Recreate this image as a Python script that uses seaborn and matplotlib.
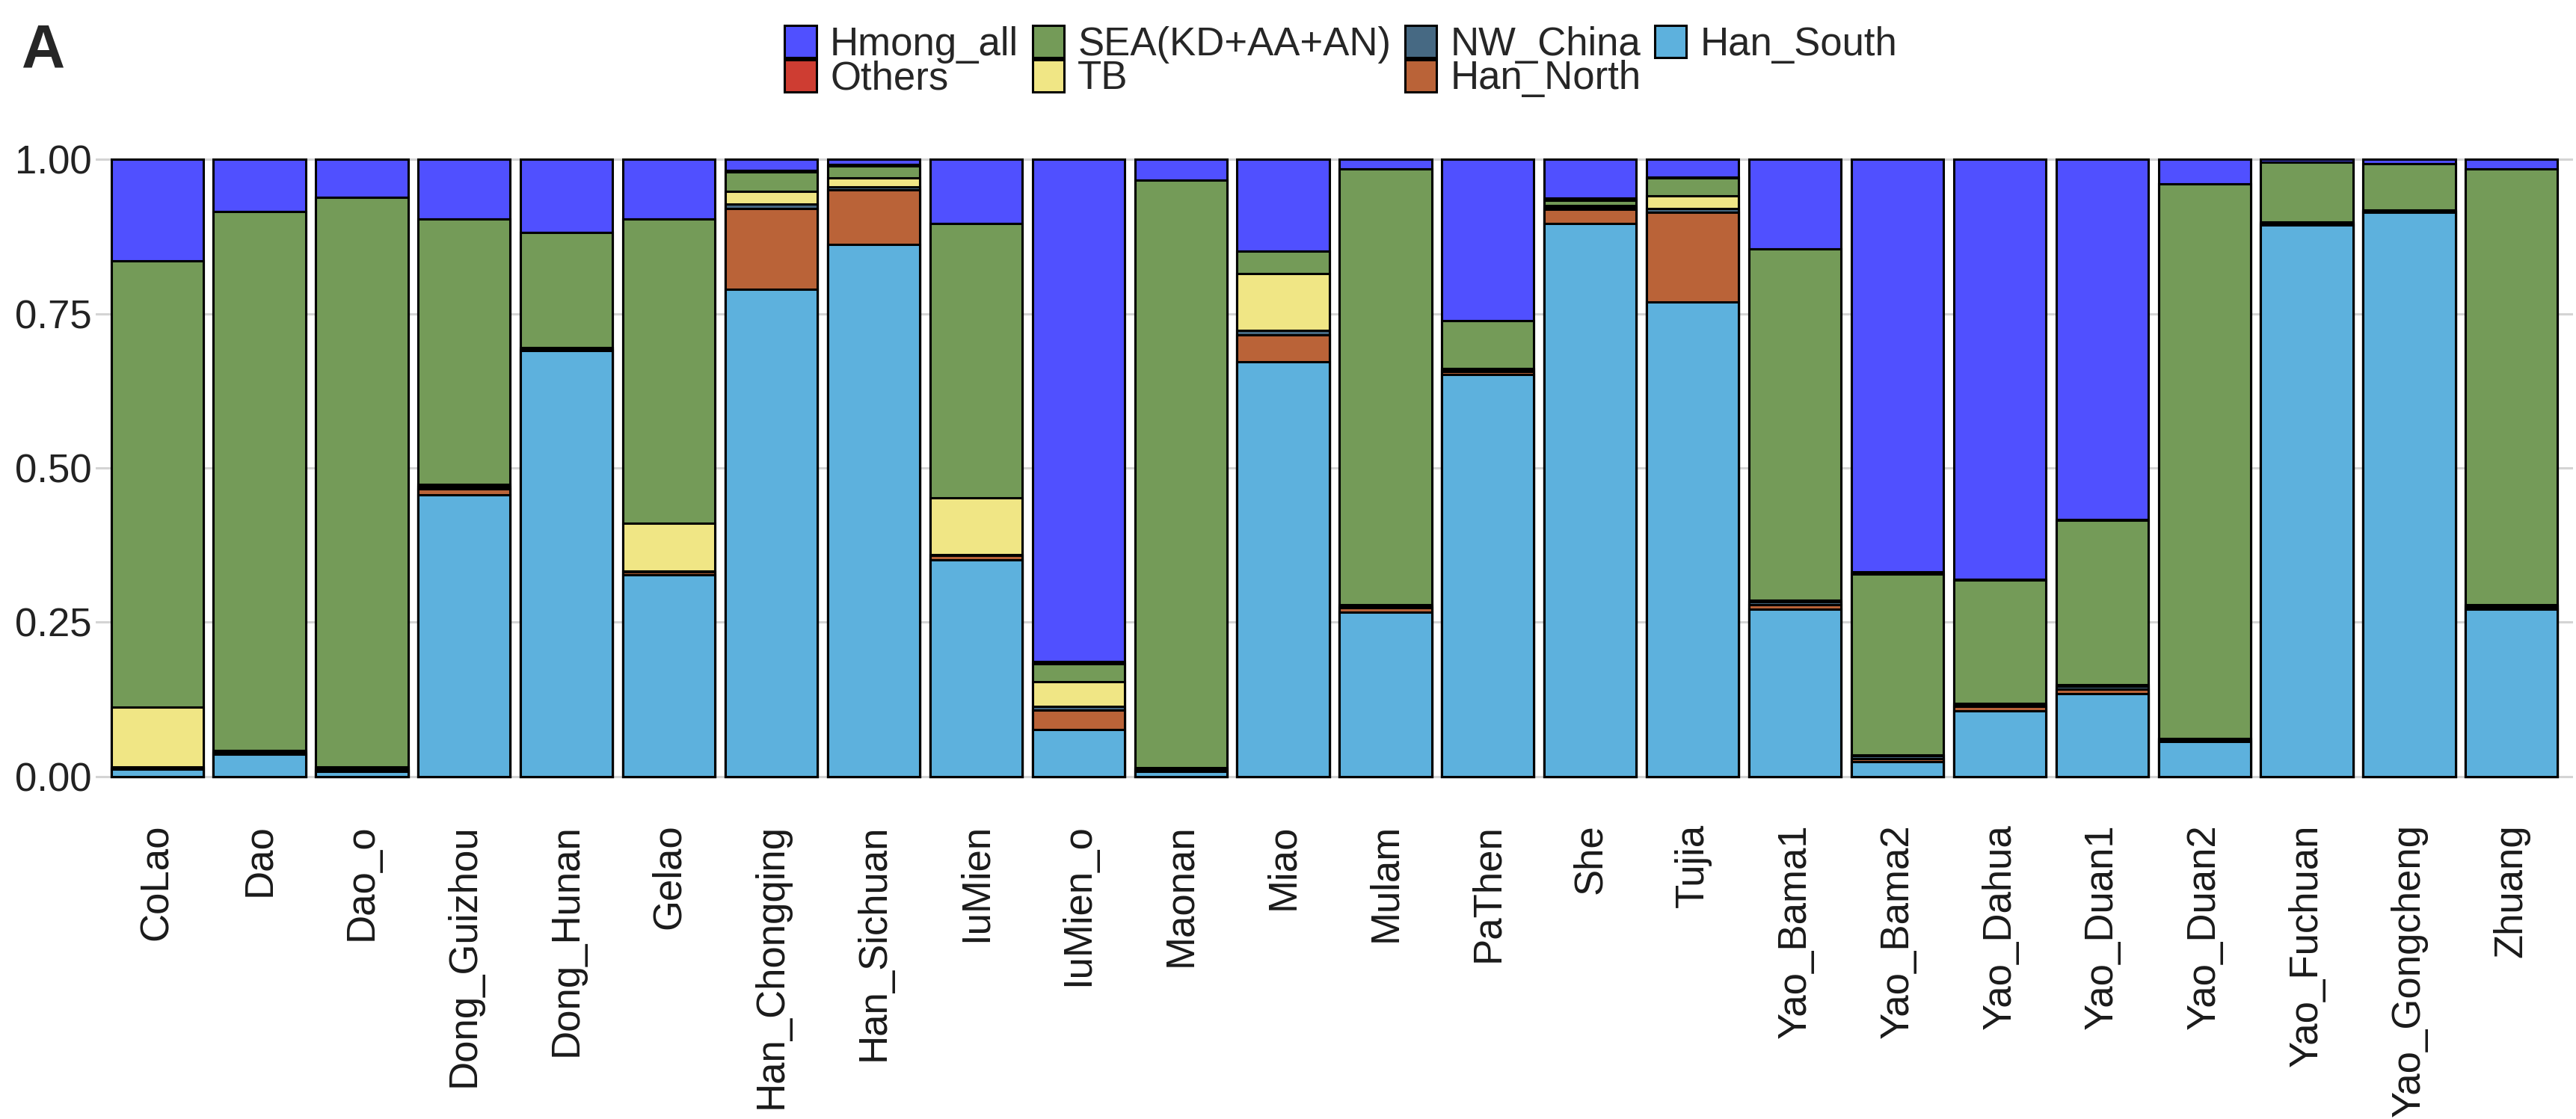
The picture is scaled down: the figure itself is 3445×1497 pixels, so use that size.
import numpy as np
import pandas as pd
import seaborn as sns
import matplotlib

matplotlib.use("Agg")
import matplotlib.pyplot as plt
from matplotlib.patches import Patch

sns.set_theme(style="white")
plt.rcParams["font.family"] = ["Liberation Sans", "DejaVu Sans"]

populations = [
    "CoLao", "Dao", "Dao_o", "Dong_Guizhou", "Dong_Hunan", "Gelao",
    "Han_Chongqing", "Han_Sichuan", "IuMien", "IuMien_o", "Maonan", "Miao",
    "Mulam", "PaThen", "She", "Tujia", "Yao_Bama1", "Yao_Bama2",
    "Yao_Dahua", "Yao_Duan1", "Yao_Duan2", "Yao_Fuchuan", "Yao_Gongcheng",
    "Zhuang",
]

# ancestry proportions per population, one list per component
han_south = [0.012, 0.036, 0.008, 0.456, 0.690, 0.327, 0.789, 0.862, 0.351, 0.076, 0.008, 0.672,
             0.266, 0.652, 0.896, 0.769, 0.271, 0.024, 0.106, 0.134, 0.057, 0.894, 0.914, 0.271]
han_north = [0.002, 0.003, 0.003, 0.010, 0.002, 0.005, 0.131, 0.089, 0.007, 0.031, 0.003, 0.044,
             0.007, 0.004, 0.023, 0.145, 0.007, 0.005, 0.007, 0.007, 0.002, 0.002, 0.002, 0.004]
nw_china = [0.001, 0.002, 0.003, 0.004, 0.002, 0.001, 0.008, 0.004, 0.001, 0.006, 0.002, 0.007,
            0.003, 0.004, 0.004, 0.006, 0.005, 0.004, 0.003, 0.005, 0.002, 0.001, 0.001, 0.002]
tb = [0.097, 0.001, 0.001, 0.003, 0.001, 0.077, 0.020, 0.015, 0.092, 0.040, 0.001, 0.092,
      0.002, 0.001, 0.002, 0.021, 0.003, 0.002, 0.002, 0.003, 0.001, 0.001, 0.001, 0.001]
sea = [0.723, 0.873, 0.924, 0.430, 0.187, 0.493, 0.032, 0.019, 0.445, 0.029, 0.953, 0.036,
       0.707, 0.078, 0.009, 0.029, 0.569, 0.293, 0.200, 0.266, 0.898, 0.098, 0.075, 0.707]
others = [0.000, 0.000, 0.000, 0.000, 0.000, 0.000, 0.002, 0.003, 0.000, 0.004, 0.000, 0.000,
          0.000, 0.000, 0.003, 0.001, 0.000, 0.004, 0.002, 0.002, 0.000, 0.000, 0.000, 0.000]
hmong_all = [0.165, 0.085, 0.061, 0.097, 0.118, 0.097, 0.018, 0.008, 0.104, 0.814, 0.033, 0.149,
             0.015, 0.261, 0.063, 0.029, 0.145, 0.668, 0.680, 0.583, 0.040, 0.004, 0.007, 0.015]

# bottom -> top stacking order
components = ["Han_South", "Han_North", "NW_China", "TB", "SEA(KD+AA+AN)", "Others", "Hmong_all"]
values = [han_south, han_north, nw_china, tb, sea, others, hmong_all]

colors = {
    "Hmong_all": "#5050FF",
    "Others": "#CE3D32",
    "SEA(KD+AA+AN)": "#749B58",
    "TB": "#F0E685",
    "NW_China": "#466983",
    "Han_North": "#BA6338",
    "Han_South": "#5DB1DD",
}
legend_order = ["Hmong_all", "Others", "SEA(KD+AA+AN)", "TB", "NW_China", "Han_North", "Han_South"]

df = pd.DataFrame(dict(zip(components, values)), index=populations)
cum = df.cumsum(axis=1)

fig = plt.figure(figsize=(17.225, 7.485), dpi=200)
ax = fig.add_axes([128 / 3445, 1 - 1080 / 1497, (3441 - 128) / 3445, (1080 - 172) / 1497])

# overlay cumulative bars from the top component down
for comp in components[::-1]:
    sns.barplot(
        x=populations, y=cum[comp].values, order=populations, color=colors[comp],
        saturation=1, width=0.9, edgecolor="black", linewidth=1.1,
        errorbar=None, ax=ax,
    )

ax.set_xlim(-0.6, len(populations) - 0.4)
ax.set_ylim(-0.05, 1.05)
ax.set_yticks([0, 0.25, 0.5, 0.75, 1.0])
ax.set_yticklabels(["0.00", "0.25", "0.50", "0.75", "1.00"])
ax.yaxis.grid(True, color="#D4D4D4", linewidth=1.1)
ax.xaxis.grid(False)
ax.set_axisbelow(True)
for s in ax.spines.values():
    s.set_visible(False)
ax.set_xlabel("")
ax.set_ylabel("")
ax.tick_params(axis="y", length=0, pad=2, labelsize=19, labelcolor="#222222")
ax.tick_params(axis="x", length=0, pad=8, labelsize=19, labelcolor="#1A1A1A")
plt.setp(ax.get_xticklabels(), rotation=90, ha="center", va="top")

handles = [Patch(facecolor=colors[c], edgecolor="black", linewidth=1.1) for c in legend_order]
fig.legend(
    handles, legend_order, loc="upper center", bbox_to_anchor=(0.5206, 1 - 34 / 1497),
    ncol=4, frameon=False, fontsize=19, handlelength=0.8, handleheight=0.88,
    handletextpad=0.35, columnspacing=0.35, labelspacing=-0.1, borderpad=0,
    borderaxespad=0,
)

fig.text(29 / 3445, 1 - 30 / 1497, "A", fontsize=29, fontweight="bold", ha="left", va="top")

fig.savefig("out.png", dpi=200)
